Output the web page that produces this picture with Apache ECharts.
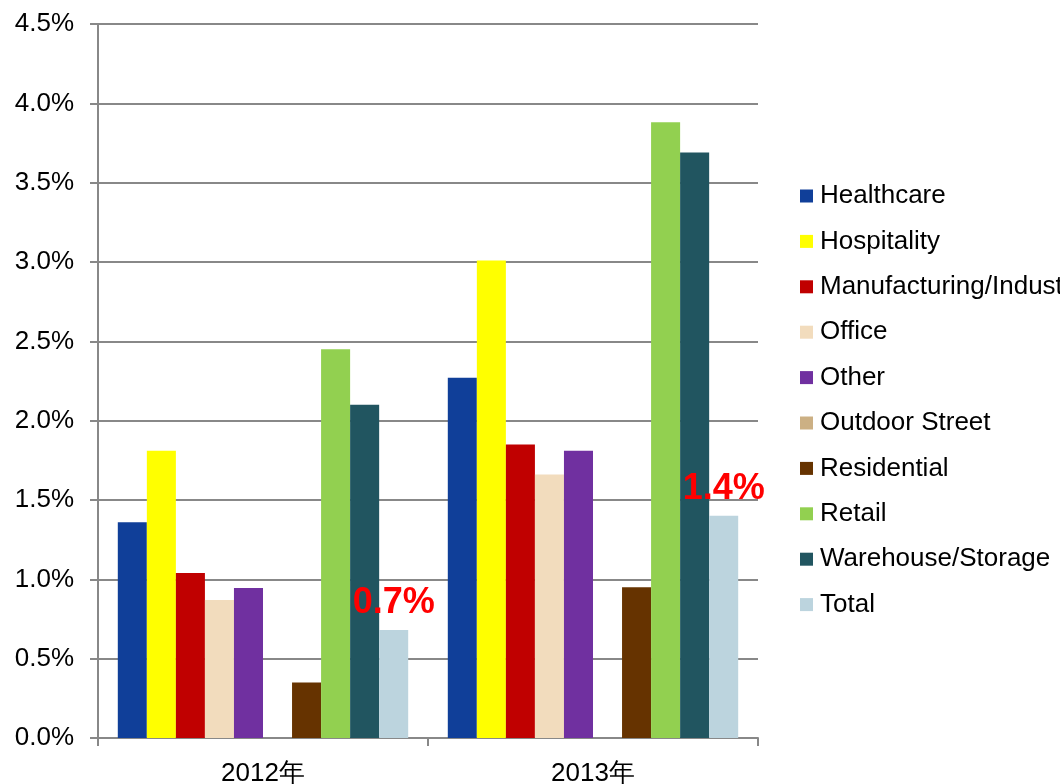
<!DOCTYPE html>
<html>
<head>
<meta charset="utf-8">
<script src="https://cdn.jsdelivr.net/npm/echarts@6/dist/echarts.min.js"></script>
<style>
  html, body { margin: 0; padding: 0; background: #fff; }
  #main { width: 1060px; height: 784px; }
</style>
</head>
<body>
<div id="main"></div>
<script>
  // 数据
  var years = ['2012年', '2013年'];
  var sectors = ['Healthcare', 'Hospitality', 'Manufacturing/Industrial', 'Office', 'Other',
                 'Outdoor Street', 'Residential', 'Retail', 'Warehouse/Storage', 'Total'];
  var healthcare = [1.36, 2.27];
  var hospitality = [1.81, 3.01];
  var manufacturing = [1.04, 1.85];
  var office = [0.87, 1.66];
  var other = [0.945, 1.81];
  var outdoorStreet = [0, 0];
  var residential = [0.35, 0.95];
  var retail = [2.45, 3.88];
  var warehouse = [2.10, 3.69];
  var total = [0.68, 1.40];
  var totalLabels = ['0.7%', '1.4%'];
  var yTicks = ['0.0%', '0.5%', '1.0%', '1.5%', '2.0%', '2.5%', '3.0%', '3.5%', '4.0%', '4.5%'];

  var colors = ['#103F99', '#FFFF00', '#C00000', '#F2DCBD', '#7030A0',
                '#CCB084', '#663300', '#92D050', '#215560', '#BCD4DE'];
  var values = [healthcare, hospitality, manufacturing, office, other,
                outdoorStreet, residential, retail, warehouse, total];

  var font = 'Liberation Sans, Arial, sans-serif';
  var myChart = echarts.init(document.getElementById('main'));

  var series = sectors.map(function (name, i) {
    var s = {
      name: name,
      type: 'bar',
      barGap: '0%',
      barCategoryGap: '12%',
      itemStyle: { color: colors[i] },
      data: values[i]
    };
    // 合计柱上方的红色标签
    if (name === 'Total') {
      s.label = {
        show: true,
        position: 'top',
        distance: 9,
        color: '#FF0000',
        fontSize: 36,
        fontWeight: 'bold',
        fontFamily: font,
        formatter: function (p) { return totalLabels[p.dataIndex]; }
      };
    }
    return s;
  });

  var option = {
    animation: false,
    textStyle: { fontFamily: font },
    legend: {
      orient: 'vertical',
      left: 800,
      top: 183,
      padding: 0,
      itemWidth: 13,
      itemHeight: 13,
      itemGap: 19.4,
      icon: 'rect',
      textStyle: { fontSize: 26, color: '#000', fontFamily: font, lineHeight: 26, padding: [0, 0, 0, 2] },
      data: sectors
    },
    grid: { left: 98, top: 24, width: 660, height: 714, outerBoundsMode: 'none' },
    xAxis: {
      type: 'category',
      data: years,
      axisLine: { lineStyle: { color: '#888', width: 2 } },
      axisTick: { show: true, length: 8, lineStyle: { color: '#888', width: 2 } },
      axisLabel: { fontSize: 26, color: '#000', fontFamily: font, margin: 23 }
    },
    yAxis: {
      type: 'value',
      min: 0,
      max: 4.5,
      interval: 0.5,
      axisLine: { show: true, lineStyle: { color: '#888', width: 2 } },
      axisTick: { show: true, length: 8, lineStyle: { color: '#888', width: 2 } },
      splitLine: { lineStyle: { color: '#888', width: 2 } },
      axisLabel: {
        fontSize: 26, color: '#000', fontFamily: font, margin: 24,
        formatter: function (v) { return yTicks[Math.round(v / 0.5)]; }
      }
    },
    series: series
  };
  myChart.setOption(option);
</script>
</body>
</html>
